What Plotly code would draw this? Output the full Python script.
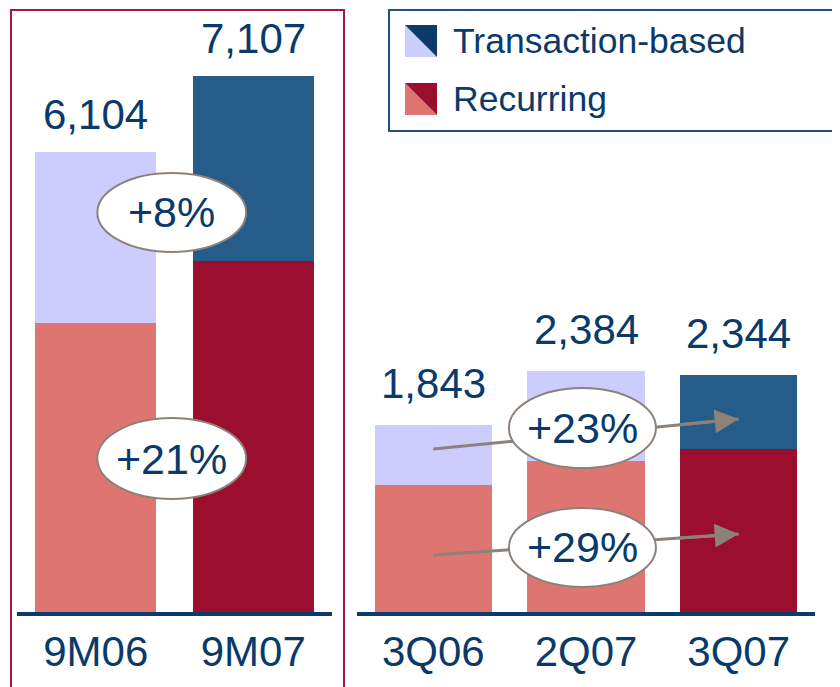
import plotly.graph_objects as go

# data
cats_9m = ["9M06", "9M07"]
recurring_9m = [3835, 4657]
transaction_9m = [2269, 2450]

cats_q = ["3Q06", "2Q07", "3Q07"]
recurring_q = [1250, 1495, 1614]
transaction_q = [593, 889, 730]

growth_9m = ["+8%", "+21%"]   # transaction, recurring
growth_q = ["+23%", "+29%"]   # transaction, recurring

TEXT = "#0A3A6A"
LAV, SALMON = "#CCCCFF", "#DE7570"
NAVY, CRIMSON = "#265C8A", "#9B0E2D"
GREY = "#8C8279"
FONT = "Liberation Sans, Arial, sans-serif"

# the page body adds an 8px margin, so the figure is laid out 8px smaller
OFF = 8
W, H = 840 - OFF, 687 - OFF
BASE = 612 - OFF  # baseline pixel from figure top
ydom = [1 - BASE / H, 1]


def fx(x):
    return (x - OFF) / W


def fy(y):
    return 1 - (y - OFF) / H


fig = go.Figure()

fig.add_bar(x=cats_9m, y=recurring_9m, marker_color=[SALMON, CRIMSON],
            width=0.77, xaxis="x", yaxis="y", name="Recurring")
fig.add_bar(x=cats_9m, y=transaction_9m, marker_color=[LAV, NAVY],
            width=0.77, xaxis="x", yaxis="y", name="Transaction-based")
fig.add_bar(x=cats_q, y=recurring_q, marker_color=[SALMON, SALMON, CRIMSON],
            width=0.77, xaxis="x2", yaxis="y2", name="Recurring")
fig.add_bar(x=cats_q, y=transaction_q, marker_color=[LAV, LAV, NAVY],
            width=0.77, xaxis="x2", yaxis="y2", name="Transaction-based")
fig.update_traces(marker_line_width=0, showlegend=False, hoverinfo="skip")

ax_common = dict(showgrid=False, zeroline=False, showline=True, linewidth=4,
                 linecolor="#0B3A6B", ticks="", tickfont=dict(size=42, color=TEXT),
                 ticklabelstandoff=0, fixedrange=True)
y_common = dict(showgrid=False, zeroline=False, visible=False, domain=ydom, fixedrange=True)

fig.update_layout(
    width=W, height=H, margin=dict(l=0, r=0, t=0, b=0),
    paper_bgcolor="white", plot_bgcolor="rgba(0,0,0,0)",
    barmode="stack", bargap=0, showlegend=False,
    font=dict(family=FONT, color=TEXT),
    xaxis=dict(domain=[fx(17), fx(332)], range=[-0.5, 1.5], anchor="y", **ax_common),
    yaxis=dict(range=[0, BASE * 13.27], anchor="x", **y_common),
    xaxis2=dict(domain=[fx(357), fx(815)], range=[-0.5, 2.5], anchor="y2", **ax_common),
    yaxis2=dict(range=[0, BASE * 9.88], anchor="x2", **y_common),
)

# totals above the bars
for cats, rec, tr, xr, yr, shift in [(cats_9m, recurring_9m, transaction_9m, "x", "y", 12),
                                     (cats_q, recurring_q, transaction_q, "x2", "y2", 16)]:
    for c, r, t in zip(cats, rec, tr):
        fig.add_annotation(x=c, y=r + t, xref=xr, yref=yr, text=f"{r + t:,}",
                           showarrow=False, yanchor="bottom", yshift=shift,
                           font=dict(size=42, color=TEXT))

shapes = []
# frame around the nine-month bars
shapes.append(dict(type="rect", xref="paper", yref="paper", x0=fx(11), x1=fx(344),
                   y0=-0.05, y1=fy(10), line=dict(color="#A8153F", width=2)))

# arrow lines for the quarterly comparison (drawn under the ellipses)
arrows = [((0, 1610), (2, 1907)), ((0, 563), (2, 771))]
for (x0, y0), (x1, y1) in arrows:
    shapes.append(dict(type="line", xref="x2", yref="y2", x0=x0, y0=y0, x1=x1, y1=y1,
                       line=dict(color=GREY, width=3), layer="above"))
    t = 0.8
    fig.add_annotation(x=x1, y=y1, xref="x2", yref="y2", axref="x2", ayref="y2",
                       ax=x0 + (x1 - x0) * t, ay=y0 + (y1 - y0) * t, text="",
                       showarrow=True, arrowhead=2, arrowsize=1.6, arrowwidth=3,
                       arrowcolor=GREY, standoff=0)

# growth ellipses
ellipses = [("x", "y", 0.01, 0.955, 4777, 5826, growth_9m[0]),
            ("x", "y", 0.01, 0.955, 1500, 2574, growth_9m[1]),
            ("x2", "y2", 0.495, 1.458, 1423, 2213, growth_q[0]),
            ("x2", "y2", 0.495, 1.458, 247, 1028, growth_q[1])]
for xr, yr, x0, x1, y0, y1, txt in ellipses:
    shapes.append(dict(type="circle", xref=xr, yref=yr, x0=x0, x1=x1, y0=y0, y1=y1,
                       fillcolor="white", line=dict(color=GREY, width=2), layer="above"))
    fig.add_annotation(x=(x0 + x1) / 2, y=(y0 + y1) / 2, xref=xr, yref=yr, text=txt,
                       showarrow=False, font=dict(size=43, color=TEXT))

# legend box with split-square swatches
shapes.append(dict(type="rect", xref="paper", yref="paper", x0=fx(389), x1=fx(838),
                   y0=fy(131), y1=fy(10), line=dict(color="#24507E", width=2)))


def pt(x, y):
    return f"{fx(x):.5f},{fy(y):.5f}"


legend_items = [("Transaction-based", LAV, "#0B3A6B", 25),
                ("Recurring", SALMON, CRIMSON, 83)]
for label, light, dark, top in legend_items:
    l, r, b = 405, 437, top + 32
    shapes.append(dict(type="path", xref="paper", yref="paper",
                       path=f"M{pt(l, top)} L{pt(l, b)} L{pt(r, b)} Z",
                       fillcolor=light, line=dict(width=0)))
    shapes.append(dict(type="path", xref="paper", yref="paper",
                       path=f"M{pt(l, top)} L{pt(r, top)} L{pt(r, b)} Z",
                       fillcolor=dark, line=dict(width=0)))
    fig.add_annotation(x=fx(451), y=fy(top + 16), xref="paper", yref="paper",
                       text=label, showarrow=False, xanchor="left", yanchor="middle",
                       font=dict(size=35.5, color=TEXT))

fig.update_layout(shapes=shapes)

fig.write_html("out.html")
